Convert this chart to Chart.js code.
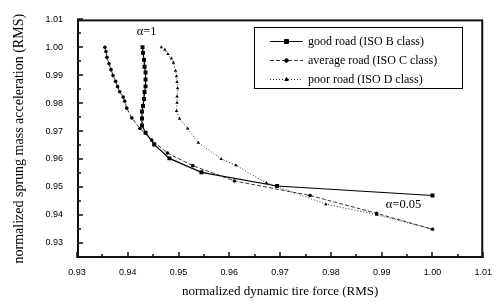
<!DOCTYPE html>
<html lang="en">
<head>
    <meta charset="UTF-8">
    <title>Sprung mass acceleration vs tire force</title>
    <script src="https://cdn.jsdelivr.net/npm/chart.js"></script>
    <style>
        body { margin: 0; background: #fff; }
        #wrap { width: 501px; height: 304px; }
    </style>
</head>
<body>
    <div id="wrap"><canvas id="myChart" width="501" height="304"></canvas></div>
    <script>
        // values (x = normalized tire force, y = normalized body acceleration)
        const goodX = [0.9429, 0.9430, 0.9432, 0.9433, 0.9435, 0.9435, 0.9435, 0.9433, 0.9432, 0.9430, 0.9428, 0.9428, 0.9428, 0.9435, 0.9452, 0.9482, 0.9545, 0.9694, 1.0000];
        const goodY = [1.0000, 0.9980, 0.9955, 0.9930, 0.9910, 0.9885, 0.9860, 0.9840, 0.9815, 0.9790, 0.9770, 0.9745, 0.9720, 0.9694, 0.9652, 0.9602, 0.9552, 0.9503, 0.9469];

        const avgX = [0.9355, 0.9357, 0.9359, 0.9363, 0.9367, 0.9371, 0.9376, 0.9380, 0.9384, 0.9391, 0.9394, 0.9398, 0.9408, 0.9424, 0.9447, 0.9478, 0.9528, 0.9610, 0.9759, 0.9890, 1.0000];
        const avgY = [1.0000, 0.9985, 0.9964, 0.9941, 0.9920, 0.9899, 0.9878, 0.9859, 0.9841, 0.9822, 0.9807, 0.9782, 0.9747, 0.9709, 0.9668, 0.9621, 0.9576, 0.9521, 0.9469, 0.9405, 0.9348];

        const poorX = [0.9466, 0.9473, 0.9479, 0.9486, 0.9490, 0.9494, 0.9496, 0.9497, 0.9498, 0.9497, 0.9497, 0.9496, 0.9502, 0.9518, 0.9539, 0.9584, 0.9613, 0.9673, 0.9790, 0.9890, 1.0000];
        const poorY = [1.0000, 0.9991, 0.9976, 0.9960, 0.9945, 0.9916, 0.9896, 0.9876, 0.9853, 0.9824, 0.9801, 0.9772, 0.9744, 0.9709, 0.9658, 0.9600, 0.9577, 0.9514, 0.9438, 0.9400, 0.9348];

        const seriesNames = ['good road (ISO B class)', 'average road (ISO C class)', 'poor road (ISO D class)'];
        const xTicks = [0.93, 0.94, 0.95, 0.96, 0.97, 0.98, 0.99, 1.00, 1.01];
        const yTicks = [0.93, 0.94, 0.95, 0.96, 0.97, 0.98, 0.99, 1.00, 1.01];
        const notes = [
            { text: 'α=1', x: 0.9437, y: 1.0055 },
            { text: 'α=0.05', x: 0.9943, y: 0.9435 }
        ];

        const pts = (xs, ys) => xs.map((x, i) => ({ x: x, y: ys[i] }));

        const tickFont = { family: '"Liberation Sans", Arial, sans-serif', size: 9 };
        const serif = '"Liberation Serif", "Times New Roman", serif';

        // frame, inward ticks, legend box and alpha labels
        const decor = {
            id: 'decor',
            afterDraw(chart) {
                const c = chart.ctx;
                const a = chart.chartArea;
                const sx = chart.scales.x, sy = chart.scales.y;
                c.save();

                // frame, inset by one pixel
                c.strokeStyle = '#111';
                c.lineWidth = 2;
                c.strokeRect(a.left + 1, a.top + 1, a.width - 2, a.height - 2);

                // inward ticks
                c.lineWidth = 1.5;
                c.beginPath();
                for (let i = 0; i < xTicks.length; i++) {
                    const px = Math.round(sx.getPixelForValue(xTicks[i]));
                    c.moveTo(px, a.bottom); c.lineTo(px, a.bottom - 6);
                    if (i < xTicks.length - 1) {
                        const mx = Math.round(sx.getPixelForValue((xTicks[i] + xTicks[i + 1]) / 2));
                        c.moveTo(mx, a.bottom); c.lineTo(mx, a.bottom - 4);
                    }
                }
                for (let i = 0; i < yTicks.length; i++) {
                    const py = Math.round(sy.getPixelForValue(yTicks[i]));
                    c.moveTo(a.left, py); c.lineTo(a.left + 6, py);
                    if (i < yTicks.length - 1) {
                        const my = Math.round(sy.getPixelForValue((yTicks[i] + yTicks[i + 1]) / 2));
                        c.moveTo(a.left, my); c.lineTo(a.left + 4, my);
                    }
                }
                c.stroke();

                // legend
                c.strokeStyle = '#000';
                c.fillStyle = '#000';
                c.lineWidth = 1;
                const lx = 254, ly = 27, lw = 208, lh = 61;
                c.strokeRect(lx + 0.5, ly + 0.5, lw, lh);
                c.font = '12px ' + serif;
                c.textBaseline = 'middle';
                chart.data.datasets.forEach((ds, i) => {
                    const ry = 41 + i * 19;
                    c.save();
                    c.lineWidth = ds.borderWidth;
                    c.setLineDash(ds.borderDash || []);
                    c.beginPath();
                    c.moveTo(270, ry + 0.5); c.lineTo(303, ry + 0.5);
                    c.stroke();
                    c.restore();
                    Chart.helpers.drawPoint(c, {
                        pointStyle: ds.pointStyle, radius: ds.pointRadius, rotation: 0, borderWidth: 1
                    }, 286.5, ry + 0.5);
                    c.fillText(ds.label, 308, ry + 1);
                });

                c.textAlign = 'center';
                c.font = '12.5px ' + serif;
                notes.forEach(n => {
                    c.fillText(n.text, sx.getPixelForValue(n.x), sy.getPixelForValue(n.y));
                });
                c.restore();
            }
        };

        const ctx = document.getElementById('myChart').getContext('2d');
        new Chart(ctx, {
            type: 'scatter',
            data: {
                datasets: [
                    { label: seriesNames[0], data: pts(goodX, goodY), showLine: true, borderColor: '#000', backgroundColor: '#000', borderWidth: 1.2, pointStyle: 'rect', pointRadius: 2.8, pointBorderWidth: 0 },
                    { label: seriesNames[1], data: pts(avgX, avgY), showLine: true, borderColor: '#000', backgroundColor: '#000', borderWidth: 0.8, borderDash: [4, 2], pointStyle: 'circle', pointRadius: 1.8, pointBorderWidth: 0 },
                    { label: seriesNames[2], data: pts(poorX, poorY), showLine: true, borderColor: '#000', backgroundColor: '#000', borderWidth: 0.8, borderDash: [1, 2], pointStyle: 'triangle', pointRadius: 2, pointBorderWidth: 0 }
                ]
            },
            options: {
                responsive: false,
                animation: false,
                layout: { padding: { top: 3, right: 14, left: 0, bottom: 0 } },
                plugins: { legend: { display: false }, tooltip: { enabled: false } },
                scales: {
                    x: {
                        type: 'linear', min: 0.93, max: 1.01,
                        afterFit: s => { s.height = 46; },
                        afterBuildTicks: s => { s.ticks = xTicks.map(v => ({ value: v })); },
                        grid: { display: false, drawTicks: false },
                        border: { display: false },
                        ticks: { color: '#000', font: tickFont, padding: 9, maxRotation: 0, callback: v => v.toFixed(2) },
                        title: { display: true, text: 'normalized dynamic tire force (RMS)', color: '#000', font: { family: serif, size: 13 }, padding: { top: 0, bottom: 5 } }
                    },
                    y: {
                        type: 'linear', min: 0.9245, max: 1.01,
                        afterFit: s => { s.width = 77; },
                        afterBuildTicks: s => { s.ticks = yTicks.map(v => ({ value: v })); },
                        grid: { display: false, drawTicks: false },
                        border: { display: false },
                        ticks: { color: '#000', font: tickFont, padding: 14, callback: v => v.toFixed(2) },
                        title: { display: true, text: 'normalized sprung mass acceleration (RMS)', color: '#000', font: { family: serif, size: 14 }, padding: { top: 11, bottom: 0 } }
                    }
                }
            },
            plugins: [decor]
        });
    </script>
</body>
</html>
